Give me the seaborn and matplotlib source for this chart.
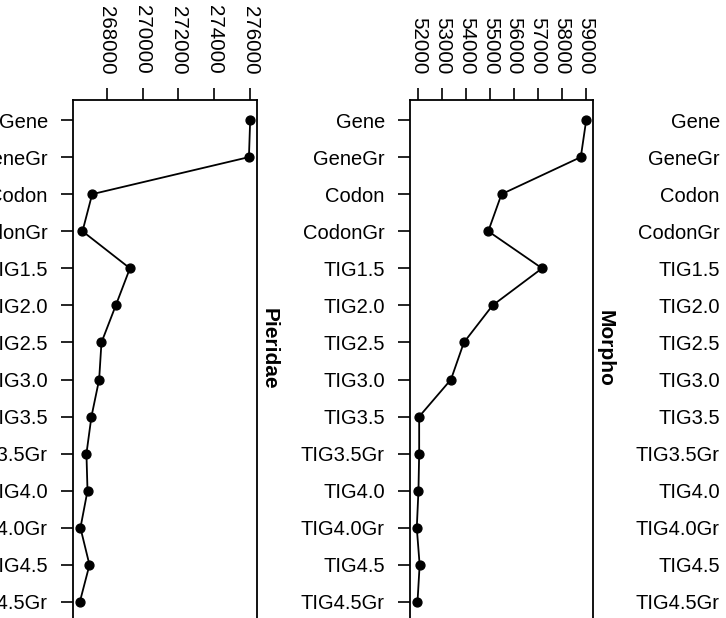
import matplotlib
matplotlib.use("Agg")
import matplotlib.pyplot as plt
import seaborn as sns
import pandas as pd

# ---- data ----
methods = ["Gene", "GeneGr", "Codon", "CodonGr", "TIG1.5", "TIG2.0", "TIG2.5",
           "TIG3.0", "TIG3.5", "TIG3.5Gr", "TIG4.0", "TIG4.0Gr", "TIG4.5", "TIG4.5Gr"]
pieridae = [276010, 275940, 267180, 266640, 269290, 268500, 267700,
            267570, 267140, 266860, 266920, 266525, 267030, 266490]
morpho = [59017, 58790, 55475, 54920, 57170, 55100, 53900,
          53360, 52030, 52030, 52000, 51930, 52050, 51960]
pieridae_ticks = [268000, 270000, 272000, 274000, 276000]
morpho_ticks = [52000, 53000, 54000, 55000, 56000, 57000, 58000, 59000]
titles = ["Pieridae", "Morpho"]

sns.set_theme(style="white")
plt.rcParams["font.family"] = ["Liberation Sans", "DejaVu Sans"]
plt.rcParams["axes.edgecolor"] = "black"
plt.rcParams["text.color"] = "black"
plt.rcParams["xtick.color"] = "black"
plt.rcParams["ytick.color"] = "black"

W, H = 726, 618
fig = plt.figure(figsize=(W / 100, H / 100), dpi=100)


def px_axes(left, top, width, height):
    return fig.add_axes([left / W, 1 - (top + height) / H, width / W, height / H])


FS = 14.5
n = len(methods)


def style_axes(ax):
    ax.set_ylim(n - 1 + 0.54, -0.54)
    ax.set_xlabel("")
    ax.set_ylabel("")
    for s in ax.spines.values():
        s.set_visible(True)
        s.set_color("black")
        s.set_linewidth(1.3)
    ax.xaxis.tick_top()
    ax.tick_params(axis="x", top=True, bottom=False, labeltop=True, labelbottom=False,
                   length=8.6, width=1.2, pad=10, labelsize=FS + 0.3, labelrotation=-90)
    ax.tick_params(axis="y", left=True, length=8.6, width=1.2, pad=9.5, labelsize=FS)
    ax.grid(False)


def panel(ax, vals, ticks, title):
    df = pd.DataFrame({"method": methods, "value": vals})
    sns.pointplot(data=df, x="value", y="method", order=methods, orient="h",
                  color="black", markers="o", errorbar=None,
                  markersize=6.4, linewidth=1.3, ax=ax)
    lo, hi = min(vals), max(vals)
    r = hi - lo
    ax.set_xlim(lo - 0.04 * r, hi + 0.04 * r)
    ax.set_xticks(ticks)
    ax.set_xticklabels([str(t) for t in ticks])
    style_axes(ax)
    ax.annotate(title, xy=(1, 1 - (348.5 - 100) / 522), xycoords="axes fraction",
                xytext=(2, 0), textcoords="offset points", rotation=-90,
                ha="left", va="center", fontweight="bold", fontsize=15)


ax1 = px_axes(73, 100, 184, 522)
ax2 = px_axes(410, 100, 183, 522)
ax3 = px_axes(745, 100, 183, 522)

panel(ax1, pieridae, pieridae_ticks, titles[0])
panel(ax2, morpho, morpho_ticks, titles[1])

ax3.set_yticks(range(n))
ax3.set_yticklabels(methods)
ax3.set_xticks([])
style_axes(ax3)

fig.savefig("out.png", dpi=100)
